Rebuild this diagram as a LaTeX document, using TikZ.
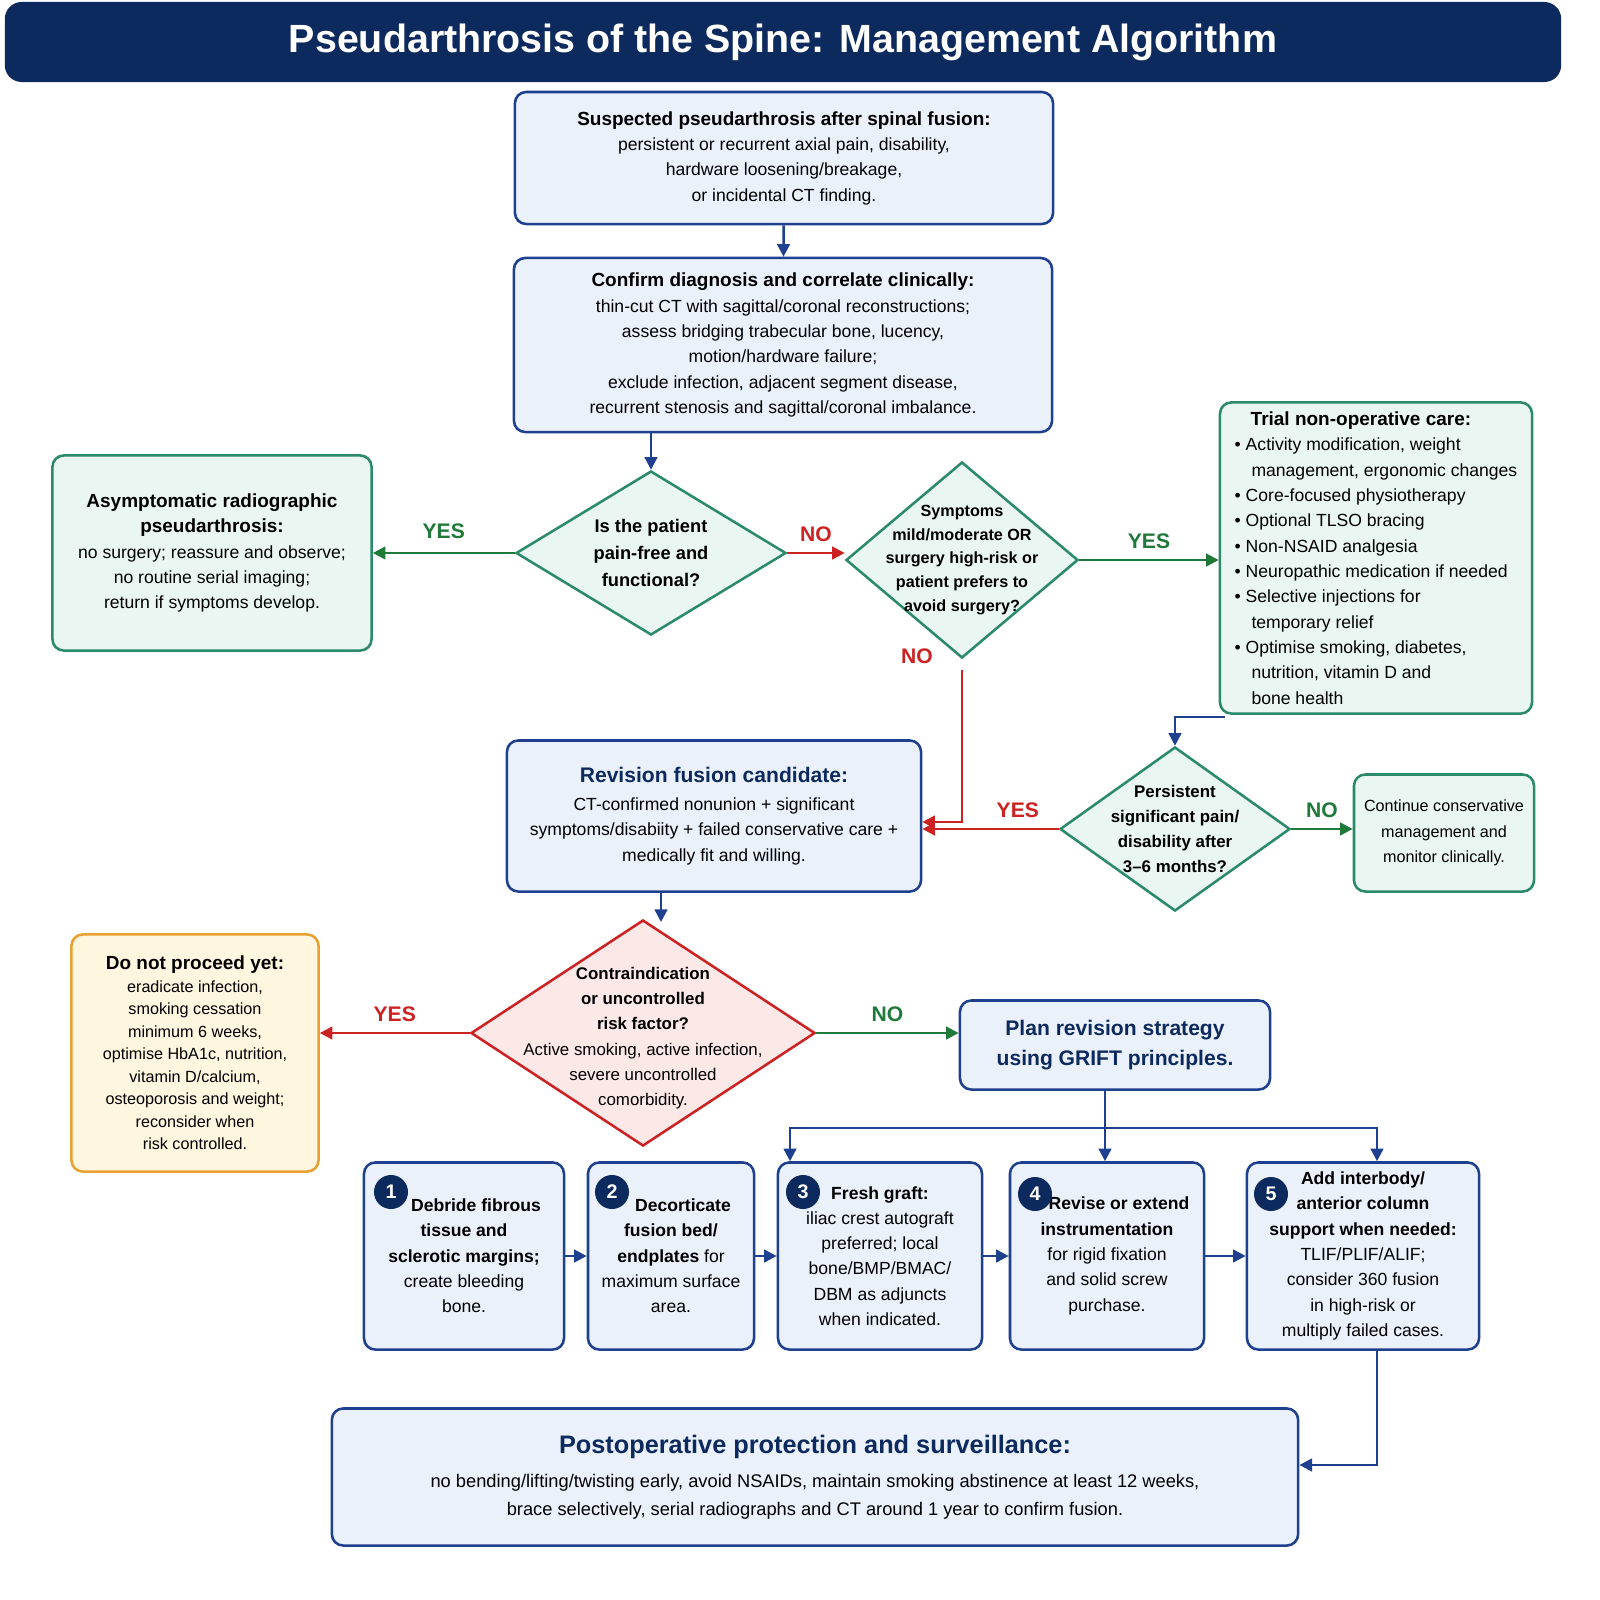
\documentclass[tikz,border=0pt]{standalone}
\usepackage{fontspec}
\setmainfont{Liberation Sans}
\usetikzlibrary{shapes.geometric,arrows.meta}
\definecolor{navy}{HTML}{0D2A5E}
\definecolor{bb}{HTML}{1F3F8F}
\definecolor{bf}{HTML}{EAF1FB}
\definecolor{gb}{HTML}{2A8A6A}
\definecolor{gf}{HTML}{E9F6F1}
\definecolor{rb}{HTML}{CC2222}
\definecolor{rf}{HTML}{FDE8E8}
\definecolor{ob}{HTML}{E8A030}
\definecolor{of}{HTML}{FFF6E0}
\definecolor{ga}{HTML}{1F7A3A}
\tikzset{
 x=0.025cm,y=-0.025cm,
 body/.style={font=\fontsize{12.5}{18}\selectfont},
 box/.style={draw=bb,fill=bf,line width=1.8pt,rounded corners=8pt,align=center,body,inner sep=4pt},
 gbox/.style={box,draw=gb,fill=gf},
 obox/.style={box,draw=ob,fill=of},
 dia/.style={diamond,draw=gb,fill=gf,line width=1.8pt,inner sep=0pt},
 rdia/.style={dia,draw=rb,fill=rf},
 dtext/.style={align=center,font=\fontsize{13}{19}\selectfont\bfseries},
 arr/.style={-{Triangle[length=9pt,width=9pt]},line width=1.8pt,draw=bb},
 garr/.style={arr,draw=ga},
 rarr/.style={arr,draw=rb},
 gl/.style={text=ga,font=\fontsize{15}{18}\selectfont\bfseries},
 rl/.style={text=rb,font=\fontsize{15}{18}\selectfont\bfseries},
 num/.style={circle,fill=navy,text=white,font=\fontsize{14}{14}\selectfont\bfseries,inner sep=0pt,minimum size=0.85cm},
}
\begin{document}
\begin{tikzpicture}
\fill[white] (0,0) rectangle (1600,1600);
% title
\node[fill=navy,rounded corners=12pt,minimum width=38.9cm,minimum height=2cm,text=white,font=\fontsize{28}{32}\selectfont\bfseries] (title) at (783,42) {Pseudarthrosis of the Spine: Management Algorithm};
% top boxes
\node[box,minimum width=13.45cm,minimum height=3.3cm] (n1) at (784,158) {{\fontsize{13.5}{18}\selectfont\bfseries Suspected pseudarthrosis after spinal fusion:}\\persistent or recurrent axial pain, disability,\\hardware loosening/breakage,\\or incidental CT finding.};
\node[box,minimum width=13.45cm,minimum height=4.35cm] (n2) at (783,345) {{\fontsize{13.5}{18}\selectfont\bfseries Confirm diagnosis and correlate clinically:}\\thin-cut CT with sagittal/coronal reconstructions;\\assess bridging trabecular bone, lucency,\\motion/hardware failure;\\exclude infection, adjacent segment disease,\\recurrent stenosis and sagittal/coronal imbalance.};
% diamond 1
\node[dia,minimum width=6.75cm,minimum height=4.1cm] (d1) at (651,553) {};
\node[dtext] at (d1) {Is the patient\\pain-free and\\functional?};
\node[gbox,minimum width=7.975cm,minimum height=4.875cm] (asym) at (212,553) {{\fontsize{13.5}{20}\selectfont\bfseries Asymptomatic radiographic}\\{\fontsize{13.5}{20}\selectfont\bfseries pseudarthrosis:}\\no surgery; reassure and observe;\\no routine serial imaging;\\return if symptoms develop.};
% diamond 2
\node[dia,minimum width=5.8cm,minimum height=4.9cm] (d2) at (962,560) {};
\node[dtext,font=\fontsize{11.5}{17}\selectfont\bfseries] at (d2) {Symptoms\\mild/moderate OR\\surgery high-risk or\\patient prefers to\\avoid surgery?};
% trial
\node[gbox,minimum width=7.8cm,minimum height=7.775cm,align=left] (trial) at (1376,558) {\hspace*{0.4cm}{\fontsize{13.5}{18}\selectfont\bfseries Trial non-operative care:}\\
\textbullet\ Activity modification, weight\\\hspace*{0.42cm}management, ergonomic changes\\
\textbullet\ Core-focused physiotherapy\\
\textbullet\ Optional TLSO bracing\\
\textbullet\ Non-NSAID analgesia\\
\textbullet\ Neuropathic medication if needed\\
\textbullet\ Selective injections for\\\hspace*{0.42cm}temporary relief\\
\textbullet\ Optimise smoking, diabetes,\\\hspace*{0.42cm}nutrition, vitamin D and\\\hspace*{0.42cm}bone health};
% diamond 3
\node[dia,minimum width=5.75cm,minimum height=4.1cm] (d3) at (1175,829) {};
\node[dtext,font=\fontsize{12}{18}\selectfont\bfseries] at (d3) {Persistent\\significant pain/\\disability after\\3–6 months?};
\node[gbox,minimum width=4.5cm,minimum height=2.925cm,font=\fontsize{11.5}{18}\selectfont] (cont) at (1444,833) {Continue conservative\\management and\\monitor clinically.};
% revision
\node[box,minimum width=10.35cm,minimum height=3.775cm] (rev) at (714,816) {{\fontsize{15}{24}\selectfont\bfseries\color{navy} Revision fusion candidate:}\\[2pt]CT-confirmed nonunion + significant\\symptoms/disabiity + failed conservative care +\\medically fit and willing.};
% diamond 4
\node[rdia,minimum width=8.6cm,minimum height=5.65cm] (d4) at (643,1033) {};
\node[dtext,font=\fontsize{12}{18}\selectfont] at (643,1038) {{\bfseries Contraindication}\\{\bfseries or uncontrolled}\\{\bfseries risk factor?}\\\mdseries Active smoking, active infection,\\\mdseries severe uncontrolled\\\mdseries comorbidity.};
\node[obox,minimum width=6.175cm,minimum height=5.925cm,font=\fontsize{11.5}{16}\selectfont] (dnp) at (195,1053) {{\fontsize{13.5}{20}\selectfont\bfseries Do not proceed yet:}\\eradicate infection,\\smoking cessation\\minimum 6 weeks,\\optimise HbA1c, nutrition,\\vitamin D/calcium,\\osteoporosis and weight;\\reconsider when\\risk controlled.};
\node[box,minimum width=7.75cm,minimum height=2.225cm,font=\fontsize{15}{21}\selectfont\bfseries\color{navy}] (plan) at (1115,1045) {Plan revision strategy\\using GRIFT principles.};
% steps
\begin{scope}[every node/.append style={minimum height=4.675cm,font=\fontsize{12}{18}\selectfont}]
\node[box,minimum width=5cm] (s1) at (464,1256) {\hspace*{0.6cm}\textbf{Debride fibrous}\\\textbf{tissue and}\\\textbf{sclerotic margins;}\\create bleeding\\bone.};
\node[box,minimum width=4.15cm] (s2) at (671,1256) {\hspace*{0.6cm}\textbf{Decorticate}\\\textbf{fusion bed/}\\\textbf{endplates} for\\maximum surface\\area.};
\node[box,minimum width=5.1cm] (s3) at (880,1256) {\textbf{Fresh graft:}\\iliac crest autograft\\preferred; local\\bone/BMP/BMAC/\\DBM as adjuncts\\when indicated.};
\node[box,minimum width=4.85cm] (s4) at (1107,1256) {\hspace*{0.6cm}\textbf{Revise or extend}\\\textbf{instrumentation}\\for rigid fixation\\and solid screw\\purchase.};
\node[box,minimum width=5.8cm] (s5) at (1363,1256) {\textbf{Add interbody/}\\\textbf{anterior column}\\\textbf{support when needed:}\\TLIF/PLIF/ALIF;\\consider 360 fusion\\in high-risk or\\multiply failed cases.};
\end{scope}
\node[num] (c1) at (391,1192) {1};
\node[num] (c2) at (612,1192) {2};
\node[num] (c3) at (803,1192) {3};
\node[num] (c4) at (1035,1194) {4};
\node[num] (c5) at (1271,1194) {5};
% post
\node[box,minimum width=24.15cm,minimum height=3.425cm,font=\fontsize{13}{20}\selectfont] (post) at (815,1477) {{\fontsize{18}{26}\selectfont\bfseries\color{navy} Postoperative protection and surveillance:}\\[4pt]no bending/lifting/twisting early, avoid NSAIDs, maintain smoking abstinence at least 12 weeks,\\brace selectively, serial radiographs and CT around 1 year to confirm fusion.};
% arrows
\draw[arr] (n1) -- (n2);
\draw[arr] (n2.south -| d1) -- (d1.north);
\draw[garr] (d1.west) -- (asym.east) node[gl,midway,above=6pt] {YES};
\draw[rarr] (d1.east) -- (d2.west |- d1.east) node[rl,midway,above=4pt] {NO};
\draw[garr] (d2.east) -- (trial.west |- d2.east) node[gl,midway,above=4pt] {YES};
\coordinate (k1) at (962,822);
\draw[rarr] (962,670) -- (k1) -- (rev.east |- k1);
\node[rl] at (917,656) {NO};
\draw[arr] (trial.south west) ++(6,2) -| (d3.north);
\draw[rarr] (d3.west) -- (rev.east |- d3.west) node[rl,pos=0.3,above=4pt] {YES};
\draw[garr] (d3.east) -- (cont.west |- d3.east) node[gl,midway,above=4pt] {NO};
\draw[arr] (rev.south -| 661,0) -- (661,922);
\draw[rarr] (d4.west) -- (dnp.east |- d4.west) node[rl,midway,above=4pt] {YES};
\draw[garr] (d4.east) -- (plan.west |- d4.east) node[gl,midway,above=4pt] {NO};
\coordinate (sp) at (1105,1128);
\draw[line width=1.8pt,draw=bb] (plan.south -| sp) -- (sp);
\draw[arr] (sp) -| (s3.north -| 790,0);
\draw[arr] (sp) -- (s4.north -| sp);
\draw[arr] (sp) -| (s5.north -| 1377,0);
\draw[arr] (s1) -- (s2);
\draw[arr] (s2) -- (s3);
\draw[arr] (s3) -- (s4);
\draw[arr] (s4) -- (s5);
\coordinate (k3) at (1377,1465);
\draw[arr] (s5.south -| k3) -- (k3) -- (post.east |- k3);
\pgfresetboundingbox
\useasboundingbox (0,0) rectangle (1600,1600);
\end{tikzpicture}
\end{document}
